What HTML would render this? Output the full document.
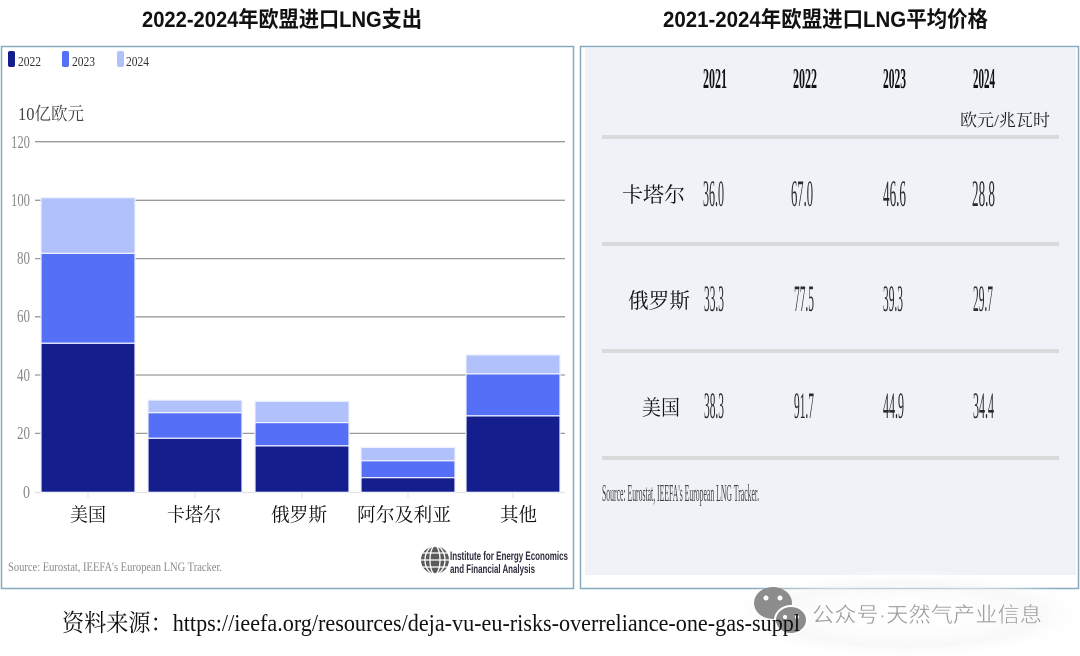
<!DOCTYPE html>
<html><head><meta charset="utf-8"><style>
html,body{margin:0;padding:0;background:#fff;}
svg{display:block;}
.ser{font-family:"Liberation Serif","Noto Serif CJK SC",serif;}
.sans{font-family:"Liberation Sans","Noto Sans CJK SC",sans-serif;}
.cjks{font-family:"Liberation Serif","Noto Serif CJK SC",serif;}
</style></head><body>
<svg width="1080" height="656" viewBox="0 0 1080 656" xmlns="http://www.w3.org/2000/svg">
<defs>
<radialGradient id="wm" cx="0.5" cy="0.5" r="0.5">
<stop offset="0" stop-color="#ffffff" stop-opacity="0"/>
<stop offset="0.7" stop-color="#f4f4f4" stop-opacity="0.6"/>
<stop offset="1" stop-color="#ffffff" stop-opacity="0"/>
</radialGradient>
</defs>
<rect width="1080" height="656" fill="#fff"/>

<!-- Titles -->
<text class="sans" x="142" y="27" font-size="22" font-weight="bold" fill="#111" textLength="280" lengthAdjust="spacingAndGlyphs">2022-2024年欧盟进口LNG支出</text>
<text class="sans" x="663" y="27" font-size="22" font-weight="bold" fill="#111" textLength="325" lengthAdjust="spacingAndGlyphs">2021-2024年欧盟进口LNG平均价格</text>

<!-- Left panel -->
<rect x="1.5" y="46.5" width="572" height="542" fill="#fff" stroke="#86a9bf" stroke-width="1.5"/>

<!-- legend -->
<rect x="8" y="51" width="7" height="16" rx="2" fill="#141e8c"/>
<text class="ser" x="18" y="66" font-size="14" fill="#333" textLength="23" lengthAdjust="spacingAndGlyphs">2022</text>
<rect x="62" y="51" width="7" height="16" rx="2" fill="#5570f7"/>
<text class="ser" x="72" y="66" font-size="14" fill="#333" textLength="23" lengthAdjust="spacingAndGlyphs">2023</text>
<rect x="117" y="51" width="7" height="16" rx="2" fill="#b1c1fb"/>
<text class="ser" x="126" y="66" font-size="14" fill="#333" textLength="23" lengthAdjust="spacingAndGlyphs">2024</text>

<text class="cjks" x="18" y="120" font-size="18" fill="#444" textLength="66" lengthAdjust="spacingAndGlyphs">10亿欧元</text>

<!-- gridlines -->
<g stroke="#9a9a9a" stroke-width="1.3">
<line x1="35" y1="141.7" x2="565" y2="141.7"/>
<line x1="35" y1="200.3" x2="565" y2="200.3"/>
<line x1="35" y1="258.6" x2="565" y2="258.6"/>
<line x1="35" y1="316.8" x2="565" y2="316.8"/>
<line x1="35" y1="375.0" x2="565" y2="375.0"/>
<line x1="35" y1="433.4" x2="565" y2="433.4"/>
</g>
<line x1="35" y1="492.5" x2="565" y2="492.5" stroke="#e2e2e2" stroke-width="1.3"/>
<g stroke="#dddddd" stroke-width="1">
<line x1="88" y1="492" x2="88" y2="498"/>
<line x1="195" y1="492" x2="195" y2="498"/>
<line x1="302" y1="492" x2="302" y2="498"/>
<line x1="408" y1="492" x2="408" y2="498"/>
<line x1="513" y1="492" x2="513" y2="498"/>
</g>

<!-- y labels -->
<g class="ser" font-size="18" fill="#888" text-anchor="end">
<text x="30" y="148" textLength="19" lengthAdjust="spacingAndGlyphs">120</text>
<text x="30" y="206" textLength="19" lengthAdjust="spacingAndGlyphs">100</text>
<text x="30" y="264" textLength="13" lengthAdjust="spacingAndGlyphs">80</text>
<text x="30" y="322" textLength="13" lengthAdjust="spacingAndGlyphs">60</text>
<text x="30" y="381" textLength="13" lengthAdjust="spacingAndGlyphs">40</text>
<text x="30" y="439" textLength="13" lengthAdjust="spacingAndGlyphs">20</text>
<text x="30" y="498" textLength="7" lengthAdjust="spacingAndGlyphs">0</text>
</g>

<!-- bars -->
<g stroke="#eef1ff" stroke-width="1.2">
<rect x="41" y="197.7" width="94" height="55.7" fill="#b1c1fb"/>
<rect x="41" y="253.4" width="94" height="89.9" fill="#5570f7"/>
<rect x="41" y="343.3" width="94" height="149" fill="#141e8c"/>
<rect x="148" y="400.1" width="94" height="12.6" fill="#b1c1fb"/>
<rect x="148" y="412.7" width="94" height="25.6" fill="#5570f7"/>
<rect x="148" y="438.3" width="94" height="54" fill="#141e8c"/>
<rect x="255" y="401.3" width="94" height="21.3" fill="#b1c1fb"/>
<rect x="255" y="422.6" width="94" height="23.3" fill="#5570f7"/>
<rect x="255" y="445.9" width="94" height="46.4" fill="#141e8c"/>
<rect x="361" y="447.4" width="94" height="13.4" fill="#b1c1fb"/>
<rect x="361" y="460.8" width="94" height="16.9" fill="#5570f7"/>
<rect x="361" y="477.7" width="94" height="14.6" fill="#141e8c"/>
<rect x="466" y="354.9" width="94" height="19" fill="#b1c1fb"/>
<rect x="466" y="373.9" width="94" height="42" fill="#5570f7"/>
<rect x="466" y="415.9" width="94" height="76.4" fill="#141e8c"/>
</g>

<!-- x labels -->
<g class="cjks" font-size="19" fill="#111">
<text x="70" y="521" textLength="36" lengthAdjust="spacingAndGlyphs">美国</text>
<text x="167" y="521" textLength="54" lengthAdjust="spacingAndGlyphs">卡塔尔</text>
<text x="271" y="521" textLength="56" lengthAdjust="spacingAndGlyphs">俄罗斯</text>
<text x="357" y="521" textLength="94" lengthAdjust="spacingAndGlyphs">阿尔及利亚</text>
<text x="500" y="521" textLength="37" lengthAdjust="spacingAndGlyphs">其他</text>
</g>

<text class="ser" x="8" y="571" font-size="13" fill="#8a8a8a" textLength="214" lengthAdjust="spacingAndGlyphs">Source: Eurostat, IEEFA's European LNG Tracker.</text>

<!-- logo -->
<g>
<circle cx="435" cy="560" r="14" fill="#5a5a5a"/>
<g fill="none" stroke="#fff" stroke-width="1.3">
<ellipse cx="435" cy="560" rx="5" ry="14"/>
<ellipse cx="435" cy="560" rx="10" ry="14"/>
<line x1="421" y1="553" x2="449" y2="553"/>
<line x1="421" y1="560" x2="449" y2="560"/>
<line x1="421" y1="567" x2="449" y2="567"/>
</g>
<path d="M424 550 A14 14 0 0 1 440 547" stroke="#fff" stroke-width="2" fill="none"/>
</g>
<text class="sans" x="450" y="560" font-size="11.5" font-weight="bold" fill="#2b2b3d" textLength="118" lengthAdjust="spacingAndGlyphs">Institute for Energy Economics</text>
<text class="sans" x="450" y="573" font-size="11.5" font-weight="bold" fill="#2b2b3d" textLength="85" lengthAdjust="spacingAndGlyphs">and Financial Analysis</text>

<!-- Right panel -->
<rect x="580.5" y="46.5" width="498" height="542" fill="#fff" stroke="#86a9bf" stroke-width="1.5"/>
<rect x="585" y="48" width="491" height="527" fill="#eff3f8"/>

<g class="ser" font-size="29" font-weight="bold" fill="#111">
<text x="703" y="88" textLength="24" lengthAdjust="spacingAndGlyphs">2021</text>
<text x="793" y="88" textLength="24" lengthAdjust="spacingAndGlyphs">2022</text>
<text x="883" y="88" textLength="23" lengthAdjust="spacingAndGlyphs">2023</text>
<text x="973" y="88" textLength="22" lengthAdjust="spacingAndGlyphs">2024</text>
</g>
<text class="cjks" x="960" y="126" font-size="17" fill="#222" textLength="90" lengthAdjust="spacingAndGlyphs">欧元/兆瓦时</text>

<g stroke="#d8d9db" stroke-width="4">
<line x1="602" y1="137" x2="1059" y2="137"/>
<line x1="602" y1="244" x2="1059" y2="244"/>
<line x1="602" y1="351" x2="1059" y2="351"/>
<line x1="602" y1="458" x2="1059" y2="458"/>
</g>

<g class="cjks" font-size="21" fill="#111">
<text x="622" y="202" textLength="63" lengthAdjust="spacingAndGlyphs">卡塔尔</text>
<text x="628" y="308" textLength="62" lengthAdjust="spacingAndGlyphs">俄罗斯</text>
<text x="642" y="415" textLength="38" lengthAdjust="spacingAndGlyphs">美国</text>
</g>

<g class="ser" font-size="37" fill="#2a2a2a">
<text x="703" y="206" textLength="21" lengthAdjust="spacingAndGlyphs">36.0</text>
<text x="791" y="206" textLength="22" lengthAdjust="spacingAndGlyphs">67.0</text>
<text x="883" y="206" textLength="23" lengthAdjust="spacingAndGlyphs">46.6</text>
<text x="972" y="206" textLength="23" lengthAdjust="spacingAndGlyphs">28.8</text>

<text x="704" y="311" textLength="20" lengthAdjust="spacingAndGlyphs">33.3</text>
<text x="794" y="311" textLength="20" lengthAdjust="spacingAndGlyphs">77.5</text>
<text x="883" y="311" textLength="20" lengthAdjust="spacingAndGlyphs">39.3</text>
<text x="973" y="311" textLength="20" lengthAdjust="spacingAndGlyphs">29.7</text>

<text x="704" y="418" textLength="20" lengthAdjust="spacingAndGlyphs">38.3</text>
<text x="794" y="418" textLength="20" lengthAdjust="spacingAndGlyphs">91.7</text>
<text x="883" y="418" textLength="21" lengthAdjust="spacingAndGlyphs">44.9</text>
<text x="973" y="418" textLength="21" lengthAdjust="spacingAndGlyphs">34.4</text>
</g>

<text class="ser" x="602" y="501" font-size="24" fill="#444" textLength="157" lengthAdjust="spacingAndGlyphs">Source: Eurostat, IEEFA's European LNG Tracker.</text>

<!-- watermark -->
<ellipse cx="905" cy="615" rx="190" ry="45" fill="url(#wm)"/>
<g>
<ellipse cx="773" cy="603" rx="19" ry="16" fill="#8c8c8c"/>
<circle cx="766" cy="598" r="2.5" fill="#fff"/>
<circle cx="780" cy="598" r="2.5" fill="#fff"/>
<ellipse cx="791" cy="620" rx="16" ry="14" fill="#8c8c8c" stroke="#fff" stroke-width="2"/>
<circle cx="785" cy="617" r="2" fill="#fff"/>
<circle cx="797" cy="617" r="2" fill="#fff"/>
</g>

<!-- bottom source -->
<text class="ser" x="62" y="631" font-size="24" fill="#111" textLength="738" lengthAdjust="spacingAndGlyphs">资料来源：https://ieefa.org/resources/deja-vu-eu-risks-overreliance-one-gas-suppl</text>

<text class="sans" x="812" y="622" font-size="21" fill="#9a9a9a" stroke="#ffffff" stroke-width="0.4" textLength="230" lengthAdjust="spacingAndGlyphs">公众号·天然气产业信息</text>
</svg>
</body></html>
